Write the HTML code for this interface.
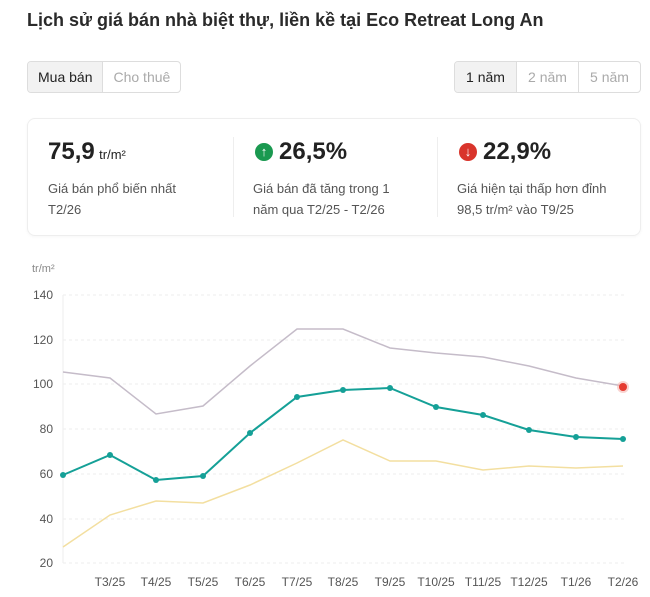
<!DOCTYPE html>
<html><head><meta charset="utf-8"><style>
body{margin:0;width:650px;height:597px;background:#fff;font-family:"Liberation Sans",sans-serif;color:#222;position:relative;overflow:hidden}
.a{position:absolute}
.title{left:27px;top:10px;font-size:18px;font-weight:600;color:#2a2a2a}
.grp{display:flex;border:1px solid #ddd;border-radius:4px;overflow:hidden;height:30px;top:61px}
.grp div{padding:0 10px;line-height:30px;font-size:14px;color:#aaa;border-left:1px solid #ddd}
.grp div:first-child{border-left:none;background:#f2f2f2;color:#222}
.card{left:27px;top:118px;width:612px;height:116px;border:1px solid #eee;border-radius:8px;box-shadow:0 1px 3px rgba(0,0,0,.04)}
.big{font-size:24px;font-weight:600;color:#222}
.sm{font-size:13px;color:#555;line-height:21px}
.ic{display:inline-block;width:18px;height:18px;border-radius:50%;color:#fff;font-size:13px;text-align:center;line-height:18px;vertical-align:3px;margin-right:6px;font-weight:bold}
</style></head><body>
<div class="a title">Lịch sử giá bán nhà biệt thự, liền kề tại Eco Retreat Long An</div>
<div class="a grp" style="left:27px"><div>Mua bán</div><div>Cho thuê</div></div>
<div class="a grp" style="left:454px;width:185px"><div style="flex:1;text-align:center;padding:0">1 năm</div><div style="flex:1;text-align:center;padding:0">2 năm</div><div style="flex:1;text-align:center;padding:0">5 năm</div></div>
<div class="a card"></div>
<div class="a" style="left:233px;top:137px;width:1px;height:80px;background:#eee"></div>
<div class="a" style="left:437px;top:137px;width:1px;height:80px;background:#eee"></div>
<div class="a" style="left:48px;top:138px"><span class="big">75,9</span> <span style="font-size:13px">tr/m²</span></div>
<div class="a sm" style="left:48px;top:178px">Giá bán phổ biến nhất<br>T2/26</div>
<div class="a" style="left:255px;top:138px"><span class="ic" style="background:#1a9950">↑</span><span class="big">26,5%</span></div>
<div class="a sm" style="left:253px;top:178px">Giá bán đã tăng trong 1<br>năm qua T2/25 - T2/26</div>
<div class="a" style="left:459px;top:138px"><span class="ic" style="background:#d9342b">↓</span><span class="big">22,9%</span></div>
<div class="a sm" style="left:457px;top:178px">Giá hiện tại thấp hơn đỉnh<br>98,5 tr/m² vào T9/25</div>
<svg class="a" style="left:0;top:0" width="650" height="597" font-family="Liberation Sans, sans-serif">
<g stroke="#eee" stroke-dasharray="3,3" stroke-width="1">
<line x1="63" x2="625" y1="295" y2="295"/><line x1="63" x2="625" y1="340" y2="340"/><line x1="63" x2="625" y1="384" y2="384"/><line x1="63" x2="625" y1="429" y2="429"/><line x1="63" x2="625" y1="474" y2="474"/><line x1="63" x2="625" y1="519" y2="519"/><line x1="63" x2="625" y1="563" y2="563"/>
</g>
<line x1="63" x2="63" y1="295" y2="563" stroke="#eee"/>
<g font-size="12" fill="#555" text-anchor="end">
<text x="53" y="299">140</text><text x="53" y="344">120</text><text x="53" y="388">100</text><text x="53" y="433">80</text><text x="53" y="478">60</text><text x="53" y="523">40</text><text x="53" y="567">20</text>
</g>
<text x="32" y="272" font-size="11" fill="#888">tr/m²</text>
<g font-size="12" fill="#555" text-anchor="middle">
<text x="110" y="586">T3/25</text><text x="156" y="586">T4/25</text><text x="203" y="586">T5/25</text><text x="250" y="586">T6/25</text><text x="297" y="586">T7/25</text><text x="343" y="586">T8/25</text><text x="390" y="586">T9/25</text><text x="436" y="586">T10/25</text><text x="483" y="586">T11/25</text><text x="529" y="586">T12/25</text><text x="576" y="586">T1/26</text><text x="623" y="586">T2/26</text>
</g>
<polyline fill="none" stroke="#c5bcc9" stroke-width="1.5" points="63,372 110,378 156,414 203,406 250,366 297,329 343,329 390,348 436,353 483,357 529,366 576,378 623,386"/>
<polyline fill="none" stroke="#f3dfa0" stroke-width="1.5" points="63,547 110,515 156,501 203,503 250,485 297,463 343,440 390,461 436,461 483,470 529,466 576,468 623,466"/>
<polyline fill="none" stroke="#15a097" stroke-width="2" points="63,475 110,455 156,480 203,476 250,433 297,397 343,390 390,388 436,407 483,415 529,430 576,437 623,439"/>
<g fill="#15a097">
<circle cx="63" cy="475" r="3"/><circle cx="110" cy="455" r="3"/><circle cx="156" cy="480" r="3"/><circle cx="203" cy="476" r="3"/><circle cx="250" cy="433" r="3"/><circle cx="297" cy="397" r="3"/><circle cx="343" cy="390" r="3"/><circle cx="390" cy="388" r="3"/><circle cx="436" cy="407" r="3"/><circle cx="483" cy="415" r="3"/><circle cx="529" cy="430" r="3"/><circle cx="576" cy="437" r="3"/><circle cx="623" cy="439" r="3"/>
</g>
<circle cx="623" cy="387" r="6" fill="#f5b5b0" opacity=".6"/>
<circle cx="623" cy="387" r="4" fill="#e53a30"/>
</svg>
</body></html>
